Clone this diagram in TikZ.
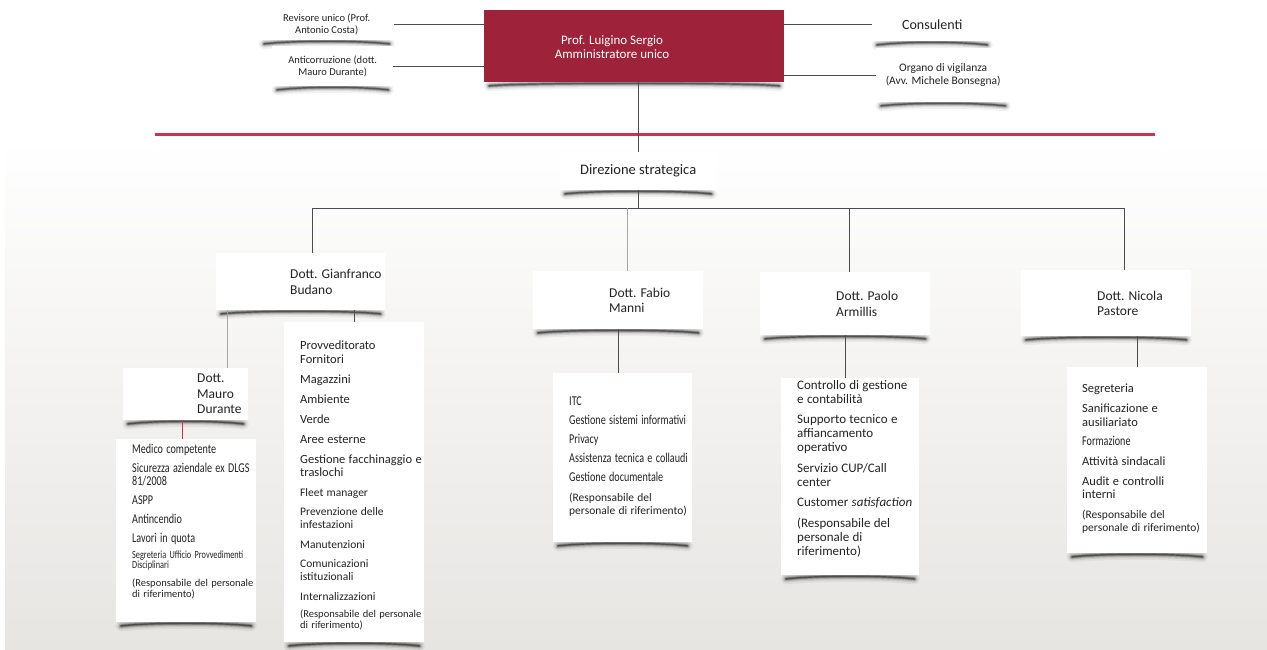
\documentclass[tikz,border=0pt]{standalone}
\usepackage{fontspec}
\setmainfont{Carlito}
\newfontfamily\tightfont[FakeStretch=0.75]{Carlito}
\usetikzlibrary{positioning}
\setlength{\parindent}{0pt}

\definecolor{boardred}{RGB}{158,34,57}
\definecolor{rulered}{RGB}{201,53,80}
\definecolor{linkgray}{RGB}{75,75,75}
\definecolor{softgray}{RGB}{165,165,165}
\definecolor{bggray}{RGB}{231,229,226}
\definecolor{textgray}{RGB}{35,35,35}

\pgfdeclarelayer{shadowlayer}
\pgfsetlayers{shadowlayer,main}

% sizes of the list entries
\newlength\entrygap
\setlength\entrygap{6.5pt}
\newcommand\regsize{\fontsize{12.5}{13.5}\selectfont}
\newcommand\bigsize{\fontsize{13}{14}\selectfont}
\newcommand\midsize{\fontsize{11.5}{13}\selectfont}
\newcommand\tightsize{\tightfont\fontsize{13.5}{12.5}\selectfont}
\newcommand\tinysize{\tightfont\fontsize{11}{10}\selectfont}
\newcommand\notesize{\fontsize{10.5}{11}\selectfont}
\newcommand\orgentry[2][\regsize]{{#1#2\par}\vspace{\entrygap}}

% curled shadow under a card
\newcommand\orgshadow[1]{%
  \foreach \w/\o in {11/0.05,7.5/0.08,5/0.14,3/0.25,1.4/0.4}{%
    \draw[black, opacity=\o, line width=\w, line cap=round]
      ([xshift=5,yshift=-3.5]#1.south west) .. controls ([xshift=35,yshift=0]#1.south west)
      and ([xshift=-35,yshift=0]#1.south east) .. ([xshift=-5,yshift=-3.5]#1.south east);}}

\tikzset{
  card/.style={fill=white, inner sep=0pt, anchor=north west, text=textgray, align=center},
  headtext/.style={anchor=west, inner sep=0pt, align=left, text=textgray, font=\fontsize{13.5}{15.5}\selectfont},
  listtext/.style={anchor=north west, inner sep=0pt, text width=135pt, align=left, text=textgray},
  smalltext/.style={font=\fontsize{10.5}{12}\selectfont},
  link/.style={draw=linkgray, line width=0.8pt},
  softlink/.style={draw=softgray, line width=0.8pt},
  redlink/.style={draw=rulered, line width=0.8pt}
}

\begin{document}
\begin{tikzpicture}[x=1pt, y=-1pt]
\useasboundingbox (0,0) rectangle (1267,650);

% Background fading to grey below the rule
\begin{pgfonlayer}{shadowlayer}
\shade[top color=white, bottom color=bggray] (5,140) rectangle (1267,650);
\end{pgfonlayer}

% Board box
\node[card, fill=boardred, minimum width=300, minimum height=72] (admin) at (484,10) {};
\node[text=white, inner sep=0pt, align=center, font=\fontsize{13}{13.5}\selectfont] (admintxt) at (612,47) {Prof. Luigino Sergio\\Amministratore unico};

% Side offices
\node[card, smalltext, minimum width=135, minimum height=32] (revisore) at (259,8) {Revisore unico (Prof.\\Antonio Costa)};
\node[card, smalltext, minimum width=121, minimum height=40] (anticorr) at (272,46) {Anticorruzione (dott.\\Mauro Durante)};
\node[card, font=\fontsize{14}{16}\selectfont, minimum width=120, minimum height=33] (consulenti) at (872,8) {Consulenti};
\node[card, font=\fontsize{11.5}{13}\selectfont, minimum width=134, minimum height=54] (vigilanza) at (876,48) {Organo di vigilanza\\(Avv. Michele Bonsegna)};

% Connect the side offices to the board
\draw[link] (revisore.east) -- (revisore.east -| admin.west);
\draw[link] (anticorr.east) -- (anticorr.east -| admin.west);
\draw[link] (consulenti.west -| admin.east) -- (consulenti.west);
\draw[link] (vigilanza.west -| admin.east) -- (vigilanza.west);

% Red rule
\draw[rulered, line width=3pt] (155,135) -- (1155,135);

% Direzione strategica
\node[card, font=\fontsize{14.5}{16}\selectfont, minimum width=156, minimum height=38] (direzione) at (560,152) {Direzione strategica};
\draw[link] (admin.south -| direzione.north) -- (direzione.north);

% Heads of the areas
\node[card, minimum width=169, minimum height=57] (budano) at (216,253) {};
\node[card, minimum width=170, minimum height=58] (manni) at (533,271) {};
\node[card, minimum width=170, minimum height=63] (armillis) at (760,272) {};
\node[card, minimum width=170, minimum height=66] (pastore) at (1021,270) {};
\node[card, minimum width=125, minimum height=52] (durante) at (123,368) {};

\node[headtext] (budanotxt) at ([xshift=74]budano.west) {Dott. Gianfranco\\Budano};
\node[headtext] (mannitxt) at ([xshift=76]manni.west) {Dott. Fabio\\Manni};
\node[headtext] (armillistxt) at ([xshift=76]armillis.west) {Dott. Paolo\\Armillis};
\node[headtext] (pastoretxt) at ([xshift=76]pastore.west) {Dott. Nicola\\Pastore};
\node[headtext] (durantetxt) at ([xshift=74]durante.west) {Dott.\\Mauro\\Durante};

% Lists of the offices
\node[card, minimum width=140, minimum height=320] (provvlist) at (284,322) {};
\node[card, minimum width=140, minimum height=183] (durantelist) at (116,439) {};
\node[card, minimum width=139, minimum height=169] (mannilist) at (553,373) {};
\node[card, minimum width=138, minimum height=197] (armillislist) at (781,378) {};
\node[card, minimum width=140, minimum height=186] (pastorelist) at (1067,367) {};

\node[listtext] (provvtxt) at ([xshift=16,yshift=-19]provvlist.north west) {%
  \orgentry{Provveditorato\newline Fornitori}%
  \orgentry{Magazzini}%
  \orgentry{Ambiente}%
  \orgentry{Verde}%
  \orgentry{Aree esterne}%
  \orgentry{Gestione facchinaggio e\newline traslochi}%
  \orgentry[\midsize]{Fleet manager}%
  \orgentry[\midsize]{Prevenzione delle\newline infestazioni}%
  \orgentry[\midsize]{Manutenzioni}%
  \orgentry[\midsize]{Comunicazioni\newline istituzionali}%
  \orgentry[\midsize]{Internalizzazioni}%
  \orgentry[\notesize]{(Responsabile del personale\newline di riferimento)}};

\node[listtext] (durantelisttxt) at ([xshift=16,yshift=-5]durantelist.north west) {%
  \orgentry[\tightsize]{Medico competente}%
  \orgentry[\tightsize]{Sicurezza aziendale ex DLGS\newline 81/2008}%
  \orgentry[\tightsize]{ASPP}%
  \orgentry[\tightsize]{Antincendio}%
  \orgentry[\tightsize]{Lavori in quota}%
  \orgentry[\tinysize]{Segreteria Ufficio Provvedimenti\newline Disciplinari}%
  \orgentry[\notesize]{(Responsabile del personale\newline di riferimento)}};

\node[listtext] (mannilisttxt) at ([xshift=16,yshift=-24]mannilist.north west) {%
  \orgentry[\tightsize]{ITC}%
  \orgentry[\tightsize]{Gestione sistemi informativi}%
  \orgentry[\tightsize]{Privacy}%
  \orgentry[\tightsize]{Assistenza tecnica e collaudi}%
  \orgentry[\tightsize]{Gestione documentale}%
  \orgentry[\midsize]{(Responsabile del\newline personale di riferimento)}};

\node[listtext] (armillislisttxt) at ([xshift=16,yshift=-2]armillislist.north west) {%
  \orgentry[\bigsize]{Controllo di gestione\newline e contabilità}%
  \orgentry[\bigsize]{Supporto tecnico e\newline affiancamento\newline operativo}%
  \orgentry[\bigsize]{Servizio CUP/Call\newline center}%
  \orgentry[\bigsize]{Customer \textit{satisfaction}}%
  \orgentry[\bigsize]{(Responsabile del\newline personale di\newline riferimento)}};

\node[listtext] (pastorelisttxt) at ([xshift=15,yshift=-17]pastorelist.north west) {%
  \orgentry{Segreteria}%
  \orgentry{Sanificazione e\newline ausiliariato}%
  \orgentry[\tightsize]{Formazione}%
  \orgentry{Attività sindacali}%
  \orgentry{Audit e controlli\newline interni}%
  \orgentry[\midsize]{(Responsabile del\newline personale di riferimento)}};

% Tree connectors
\coordinate (bus) at (0,208);
\coordinate (budanoup) at ([xshift=11.5]budano.north);
\coordinate (manniup) at ([xshift=9]manni.north);
\coordinate (armillisup) at ([xshift=4]armillis.north);
\coordinate (pastoreup) at ([xshift=18]pastore.north);
\coordinate (duranteup) at ([xshift=41.5]durante.north);
\coordinate (durantedown) at ([xshift=-3]durante.south);

\draw[link] (direzione.south) -- (direzione.south |- bus);
\draw[link] (budanoup) |- (pastoreup |- bus) -- (pastoreup);
\draw[link] (armillisup |- bus) -- (armillisup);
\draw[softlink] (manniup |- bus) -- (manniup);

\draw[softlink] (duranteup |- budano.south) -- (duranteup);
\draw[link] (provvlist.north |- budano.south) -- (provvlist.north);
\draw[redlink] (durantedown) -- (durantedown |- durantelist.north);
\draw[link] (manni.south) -- (manni.south |- mannilist.north);
\draw[link] (armillis.south) -- (armillis.south |- armillislist.north);
\draw[link] (pastorelist.north |- pastore.south) -- (pastorelist.north);

% Shadows under the cards
\begin{pgfonlayer}{shadowlayer}
\foreach \card in {revisore,anticorr,consulenti,vigilanza,admin,direzione,budano,manni,armillis,pastore,durante,provvlist,durantelist,mannilist,armillislist,pastorelist}
  {\orgshadow{\card}}
\end{pgfonlayer}
\end{tikzpicture}
\end{document}
